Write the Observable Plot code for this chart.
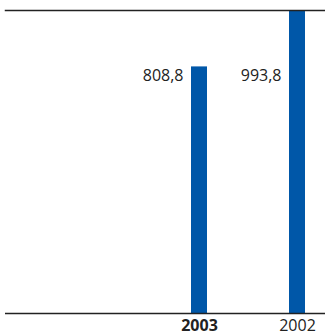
<!DOCTYPE html>
<html>
<head>
<meta charset="utf-8">
<script src="https://cdn.jsdelivr.net/npm/d3@7"></script>
<script src="https://cdn.jsdelivr.net/npm/@observablehq/plot@0.6"></script>
<style>
  html, body { margin: 0; padding: 0; background: #fff; }
  #chart svg { display: block; }
</style>
</head>
<body>
<div id="chart"></div>
<script>
const years = ["2003", "2002"];
const values = [808.8, 993.8];
const boldYear = "2003";

const data = years.map((year, i) => ({year, value: values[i]}));
const fmt = v => v.toFixed(1).replace(".", ",");
const font = "'Open Sans', 'Noto Sans', sans-serif";

const chart = Plot.plot({
  width: 325,
  height: 333,
  marginLeft: 5,
  marginRight: 0,
  marginTop: 10,
  marginBottom: 20,
  style: {fontFamily: font, background: "#fff"},
  x: {domain: years, paddingInner: 0.837, paddingOuter: 1.051, align: 0.9028, axis: null},
  y: {domain: [0, d3.max(values)], axis: null},
  marks: [
    Plot.barY(data, {x: "year", y: "value", fill: "#0057a8"}),
    Plot.ruleY([0], {stroke: "#222", strokeWidth: 1.5}),
    Plot.frame({anchor: "top", stroke: "#222", strokeWidth: 1.5}),
    Plot.text(data, {x: "year", text: d => fmt(d.value), frameAnchor: "top", dy: 65.5,
      dx: -16, textAnchor: "end", lineAnchor: "middle", fontSize: 16, fill: "#222"}),
    Plot.text(data.filter(d => d.year === boldYear), {x: "year", text: "year", frameAnchor: "bottom",
      dy: 12, lineAnchor: "middle", fontSize: 16, fontWeight: "bold", fill: "#222"}),
    Plot.text(data.filter(d => d.year !== boldYear), {x: "year", text: "year", frameAnchor: "bottom",
      dy: 12, lineAnchor: "middle", fontSize: 16, fill: "#222"})
  ]
});
document.getElementById("chart").appendChild(chart);
</script>
</body>
</html>
